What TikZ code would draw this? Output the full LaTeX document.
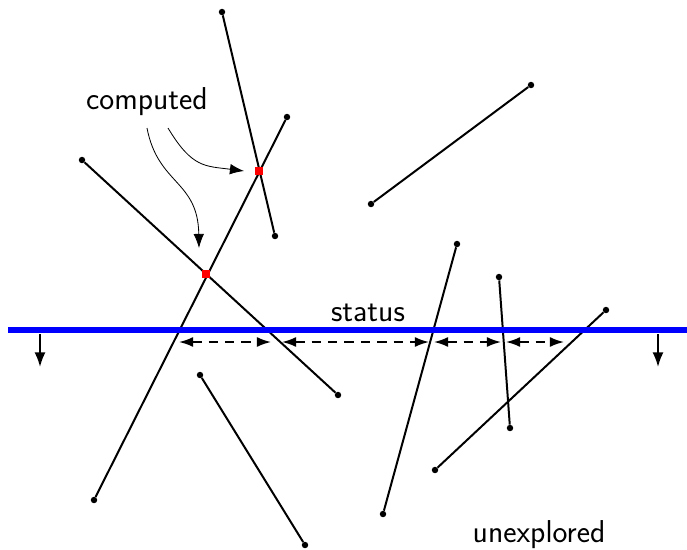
\documentclass[tikz,border=0pt]{standalone}
\usepackage{tikz}
\usetikzlibrary{arrows.meta}
\tikzset{
  seg/.style={line width=1.7pt},
  endpt/.style={circle, fill=black, inner sep=0pt, minimum size=5.5pt},
  xpt/.style={rectangle, fill=red, inner sep=0pt, minimum size=6pt},
  sweep/.style={blue, line width=4.3pt},
  gaparrow/.style={{Latex[length=12pt,width=8.5pt]}-{Latex[length=12pt,width=8.5pt]}, dashed, dash pattern=on 8pt off 6pt, line width=1.5pt},
  downarrow/.style={-{Latex[length=12.5pt,width=9.5pt]}, line width=1.7pt},
  notearrow/.style={-{Latex[length=12pt,width=9pt]}, line width=0.7pt},
  lbl/.style={font=\sffamily\fontsize{27}{32}\selectfont, inner sep=0pt}
}
\begin{document}
\begin{tikzpicture}[x=0.03cm, y=-0.03cm]
    \useasboundingbox (0,0) rectangle (687,550);
    % segment end points
    \node[endpt] (a1) at (222,12) {};
    \node[endpt] (a2) at (275,236) {};
    \node[endpt] (b1) at (287,117) {};
    \node[endpt] (b2) at (94,500) {};
    \node[endpt] (c1) at (82,160) {};
    \node[endpt] (c2) at (338,395) {};
    \node[endpt] (d1) at (531,85) {};
    \node[endpt] (d2) at (371,204) {};
    \node[endpt] (e1) at (457,244) {};
    \node[endpt] (e2) at (383,514) {};
    \node[endpt] (f1) at (499,277) {};
    \node[endpt] (f2) at (510,428) {};
    \node[endpt] (g1) at (606,310) {};
    \node[endpt] (g2) at (435,470) {};
    \node[endpt] (h1) at (200,375) {};
    \node[endpt] (h2) at (305,545) {};
    \draw[seg] (a1) -- (a2);
    \draw[seg] (b1) -- (b2);
    \draw[seg] (c1) -- (c2);
    \draw[seg] (d1) -- (d2);
    \draw[seg] (e1) -- (e2);
    \draw[seg] (f1) -- (f2);
    \draw[seg] (g1) -- (g2);
    \draw[seg] (h1) -- (h2);
    % intersections already found
    \node[xpt] (x1) at (259,171) {};
    \node[xpt] (x2) at (206,274) {};
    % sweep line
    \coordinate (sl) at (8,330);
    \coordinate (sr) at (687,330);
    \draw[sweep] (sl) -- (sr);
    \node[lbl] (status) at (368,313) {status};
    \coordinate (dl1) at (40,334);
    \coordinate (dl2) at (40,367);
    \coordinate (dr1) at (658,334);
    \coordinate (dr2) at (658,367);
    \draw[downarrow] (dl1) -- (dl2);
    \draw[downarrow] (dr1) -- (dr2);
    % gaps between neighbours on the status
    \coordinate (s1) at (179,342);
    \coordinate (s2) at (271,342);
    \coordinate (s3) at (282,342);
    \coordinate (s4) at (429,342);
    \coordinate (s5) at (434,342);
    \coordinate (s6) at (501,342);
    \coordinate (s7) at (506,342);
    \coordinate (s8) at (564,342);
    \draw[gaparrow] (s1) -- (s2);
    \draw[gaparrow] (s3) -- (s4);
    \draw[gaparrow] (s5) -- (s6);
    \draw[gaparrow] (s7) -- (s8);
    % labels
    \node[lbl] (computed) at (147,102) {computed};
    \coordinate (n1) at (147,128);
    \coordinate (n2) at (168,128);
    \coordinate (t1) at (199,248);
    \coordinate (t2) at (244,171);
    \draw[notearrow] (n1) .. controls (158,185) and (198,180) .. (t1);
    \draw[notearrow] (n2) .. controls (192,168) and (205,166) .. (t2);
    \node[lbl] (unexplored) at (539,535) {unexplored};
\end{tikzpicture}
\end{document}
